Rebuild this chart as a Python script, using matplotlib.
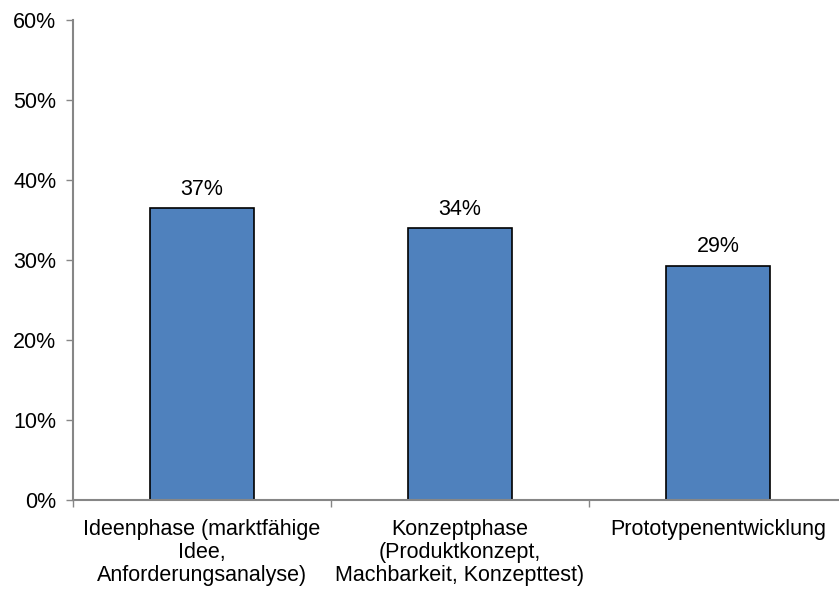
import matplotlib
matplotlib.use('Agg')
from matplotlib import pyplot as plt
from matplotlib.ticker import FixedLocator

plt.rcParams['font.family'] = ['Liberation Sans', 'DejaVu Sans']

# data
categories = ['Ideenphase (marktfähige\nIdee,\nAnforderungsanalyse)',
              'Konzeptphase\n(Produktkonzept,\nMachbarkeit, Konzepttest)',
              'Prototypenentwicklung']
values = [36.5, 34.0, 29.3]
labels = ['37%', '34%', '29%']
yticks = [0, 10, 20, 30, 40, 50, 60]

W, H = 839, 592
fig = plt.figure(figsize=(W / 100, H / 100), dpi=100)
# axis runs slightly past the right border of the picture, like the original
ax = fig.add_axes([73 / W, 92 / H, 774 / W, 480 / H])

x = range(len(values))
bars = ax.bar(x, values, width=0.4, color='#4F81BD', edgecolor='black', linewidth=1.2, zorder=2)

for b, lab in zip(bars, labels):
    ax.annotate(lab, (b.get_x() + b.get_width() / 2, b.get_height()),
                xytext=(0, 6), textcoords='offset points',
                ha='center', va='bottom', fontsize=15.5)

ax.set_xlim(-0.5, 2.5)
ax.set_ylim(0, 60)
ax.set_yticks(yticks)
ax.set_yticklabels([f'{t}%' for t in yticks], fontsize=15.5)
ax.set_xticks(list(x))
ax.set_xticklabels(categories, fontsize=15.5, linespacing=1.1)
ax.xaxis.set_minor_locator(FixedLocator([-0.5, 0.5, 1.5]))

for s in ['top', 'right']:
    ax.spines[s].set_visible(False)
for s in ['left', 'bottom']:
    ax.spines[s].set_color('#868686')
    ax.spines[s].set_linewidth(1.5)

ax.tick_params(axis='y', length=5, width=1, color='#868686', pad=7)
ax.tick_params(axis='x', which='major', length=0, pad=14)
ax.tick_params(axis='x', which='minor', length=5, width=1, color='#868686')

plt.savefig('out.png', dpi=100)
